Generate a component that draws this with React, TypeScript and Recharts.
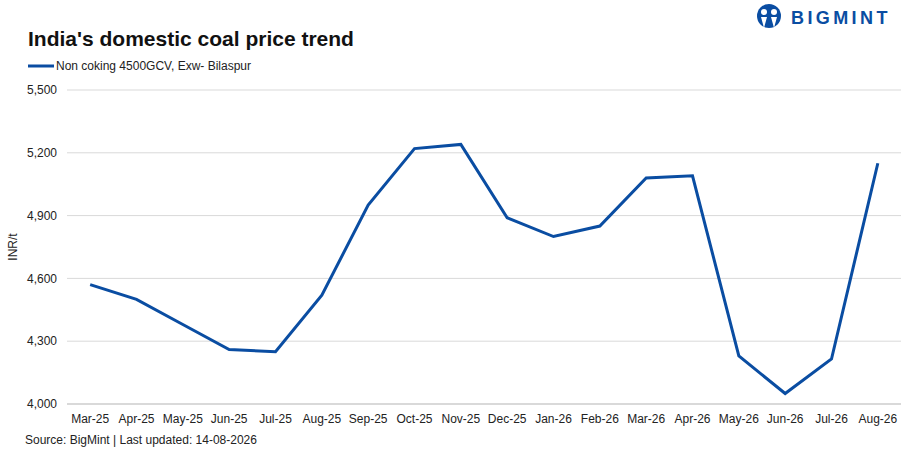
import React from "react";
import { LineChart, Line, XAxis, YAxis, CartesianGrid, Label } from "recharts";

const months = [
  "Mar-25", "Apr-25", "May-25", "Jun-25", "Jul-25", "Aug-25", "Sep-25", "Oct-25", "Nov-25",
  "Dec-25", "Jan-26", "Feb-26", "Mar-26", "Apr-26", "May-26", "Jun-26", "Jul-26", "Aug-26",
];
const prices = [
  4570, 4500, 4380, 4260, 4250, 4520, 4950, 5220, 5240,
  4890, 4800, 4850, 5080, 5090, 4230, 4050, 4215, 5150,
];
const yTicks = [4000, 4300, 4600, 4900, 5200, 5500];
const seriesName = "Non coking 4500GCV, Exw- Bilaspur";

const data = months.map((m, i) => ({ month: m, price: prices[i] }));

const FONT = "'Liberation Sans', Arial, sans-serif";
const BLUE = "#0A4DA2";

const fmt = (v: number) => v.toLocaleString("en-US");

const Logo = () => (
  <svg width={140} height={30} style={{ position: "absolute", left: 755, top: 2 }}>
    <circle cx={14} cy={14} r={12} fill={BLUE} />
    <circle cx={9} cy={10} r={3} fill="#fff" />
    <circle cx={19} cy={10} r={3} fill="#fff" />
    <path d="M6 15 L9 26 L12 15 Z" fill="#fff" />
    <path d="M16 15 L19 26 L22 15 Z" fill="#fff" />
    <text x={36} y={22} fontFamily={FONT} fontWeight={700} fontSize={18} letterSpacing={3.4} fill={BLUE}>
      BIGMINT
    </text>
  </svg>
);

export default function App() {
  return (
    <div style={{ position: "absolute", left: 0, top: 0, width: 907, height: 453, background: "#fff" }}>
      <div
        style={{
          position: "absolute",
          left: 28,
          top: 27,
          fontFamily: FONT,
          fontWeight: 700,
          fontSize: 21,
          color: "#111",
          whiteSpace: "nowrap",
        }}
      >
        India's domestic coal price trend
      </div>
      <Logo />
      <div
        style={{
          position: "absolute",
          left: 28,
          top: 59,
          display: "flex",
          alignItems: "center",
          fontFamily: FONT,
          fontSize: 12,
          color: "#222",
          whiteSpace: "nowrap",
        }}
      >
        <svg width={26} height={4} style={{ marginRight: 2 }}>
          <line x1={0} y1={2} x2={26} y2={2} stroke={BLUE} strokeWidth={3} />
        </svg>
        <span>{seriesName}</span>
      </div>
      <LineChart
        width={907}
        height={453}
        data={data}
        margin={{ top: 90, right: 6, bottom: 19, left: 7 }}
      >
        <CartesianGrid vertical={false} stroke="#d9d9d9" strokeWidth={1} />
        <XAxis
          dataKey="month"
          scale="band"
          interval={0}
          tickLine={false}
          axisLine={{ stroke: "#d9d9d9", strokeWidth: 2 }}
          tick={{ fill: "#222", fontSize: 12, fontFamily: FONT }}
          tickMargin={4}
          height={30}
        />
        <YAxis
          domain={[4000, 5500]}
          ticks={yTicks}
          interval={0}
          tickFormatter={fmt}
          axisLine={false}
          tickLine={false}
          width={60}
          tickMargin={4}
          tick={{ fill: "#222", fontSize: 12, fontFamily: FONT }}
        >
          <Label
            value="INR/t"
            angle={-90}
            position="insideLeft"
            offset={6}
            style={{ fill: "#222", fontSize: 12, fontFamily: FONT, textAnchor: "middle" }}
          />
        </YAxis>
        <Line
          type="linear"
          dataKey="price"
          name={seriesName}
          stroke={BLUE}
          strokeWidth={3}
          dot={false}
          activeDot={false}
          isAnimationActive={false}
        />
      </LineChart>
      <div
        style={{
          position: "absolute",
          left: 25,
          top: 433,
          fontFamily: FONT,
          fontSize: 12,
          color: "#222",
          whiteSpace: "nowrap",
        }}
      >
        Source: BigMint | Last updated: 14-08-2026
      </div>
    </div>
  );
}
